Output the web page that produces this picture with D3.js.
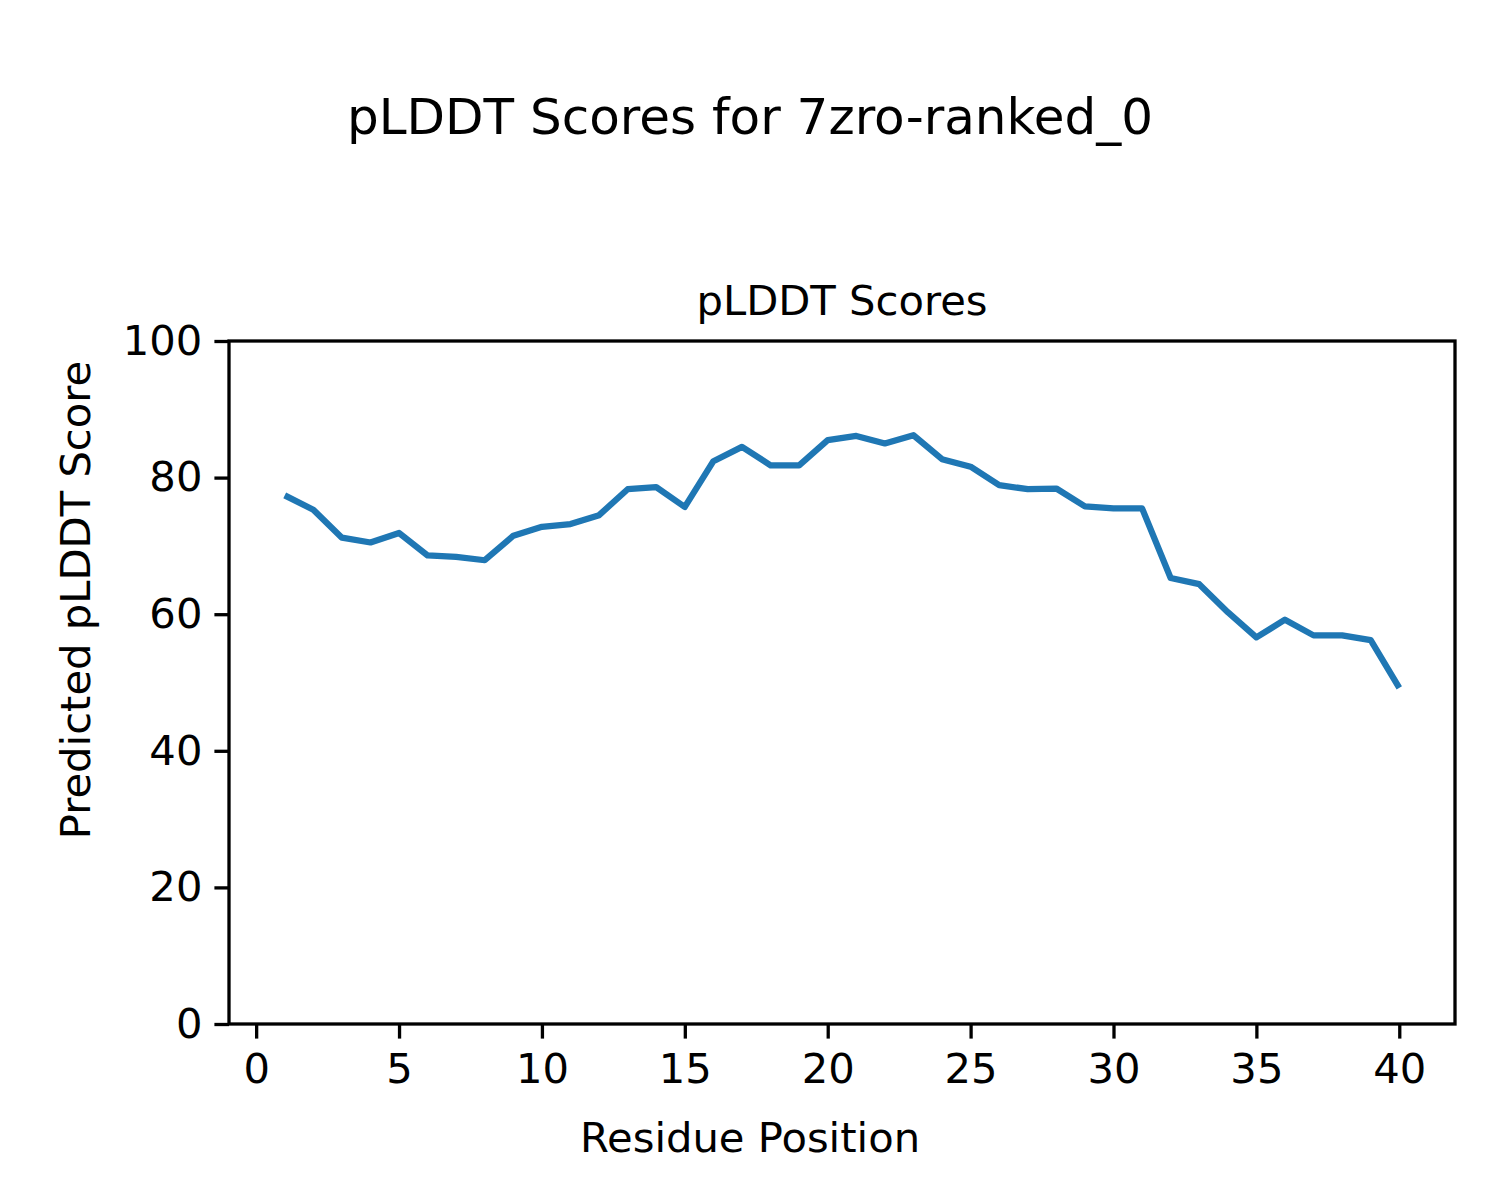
<!DOCTYPE html>
<html>
<head>
<meta charset="utf-8">
<script src="https://cdn.jsdelivr.net/npm/d3@7"></script>
<style>
  body { margin: 0; background: #fff; }
  svg { display: block; font-family: "DejaVu Sans", sans-serif; }
</style>
</head>
<body>
<svg id="chart" width="1500" height="1200"></svg>
<script>
// residue positions and predicted pLDDT scores
const residues = d3.range(1, 41);
const scores = [
  77.4, 75.3, 71.2, 70.5, 71.9, 68.6, 68.4, 67.9, 71.5, 72.8,
  73.2, 74.5, 78.3, 78.6, 75.7, 82.4, 84.5, 81.8, 81.8, 85.5,
  86.1, 85.0, 86.2, 82.7, 81.6, 78.9, 78.3, 78.4, 75.8, 75.5,
  75.5, 65.3, 64.4, 60.3, 56.6, 59.2, 56.9, 56.9, 56.2, 49.2
];
const xTicks = [0, 5, 10, 15, 20, 25, 30, 35, 40];
const yTicks = [0, 20, 40, 60, 80, 100];

const svg = d3.select('#chart');
const box = { left: 229, right: 1455, top: 341, bottom: 1024 };

const x = d3.scaleLinear().domain([-0.95, 41.95]).range([box.left, box.right]);
const y = d3.scaleLinear().domain([0, 100]).range([box.bottom, box.top]);

const data = residues.map((r, i) => ({ r, s: scores[i] }));

svg.append('path')
  .datum(data)
  .attr('fill', 'none')
  .attr('stroke', '#1f77b4')
  .attr('stroke-width', 6.25)
  .attr('stroke-linejoin', 'round')
  .attr('stroke-linecap', 'butt')
  .attr('d', d3.line().x((d) => x(d.r)).y((d) => y(d.s)));

const xAxis = svg.append('g')
  .attr('transform', `translate(0,${box.bottom})`)
  .call(d3.axisBottom(x).tickValues(xTicks).tickSize(14.6).tickPadding(15).tickSizeOuter(0));
const yAxis = svg.append('g')
  .attr('transform', `translate(${box.left},0)`)
  .call(d3.axisLeft(y).tickValues(yTicks).tickSize(14.6).tickPadding(12).tickSizeOuter(0));

[xAxis, yAxis].forEach((g) => {
  g.select('.domain').remove();
  g.selectAll('.tick line').attr('stroke', '#000').attr('stroke-width', 3.3);
  g.selectAll('.tick text').attr('fill', '#000').style('font-size', '41.7px').style('font-family', '"DejaVu Sans", sans-serif');
});

svg.append('rect')
  .attr('x', box.left).attr('y', box.top)
  .attr('width', box.right - box.left).attr('height', box.bottom - box.top)
  .attr('fill', 'none').attr('stroke', '#000').attr('stroke-width', 3.3);

svg.append('text')
  .attr('x', 750).attr('y', 134)
  .attr('text-anchor', 'middle')
  .style('font-size', '50px')
  .text('pLDDT Scores for 7zro-ranked_0');

svg.append('text')
  .attr('x', (box.left + box.right) / 2).attr('y', 315)
  .attr('text-anchor', 'middle')
  .style('font-size', '41.7px')
  .text('pLDDT Scores');

svg.append('text')
  .attr('x', 750).attr('y', 1152)
  .attr('text-anchor', 'middle')
  .style('font-size', '41.7px')
  .text('Residue Position');

svg.append('text')
  .attr('transform', `translate(90,600) rotate(-90)`)
  .attr('text-anchor', 'middle')
  .style('font-size', '41.7px')
  .text('Predicted pLDDT Score');
</script>
</body>
</html>
